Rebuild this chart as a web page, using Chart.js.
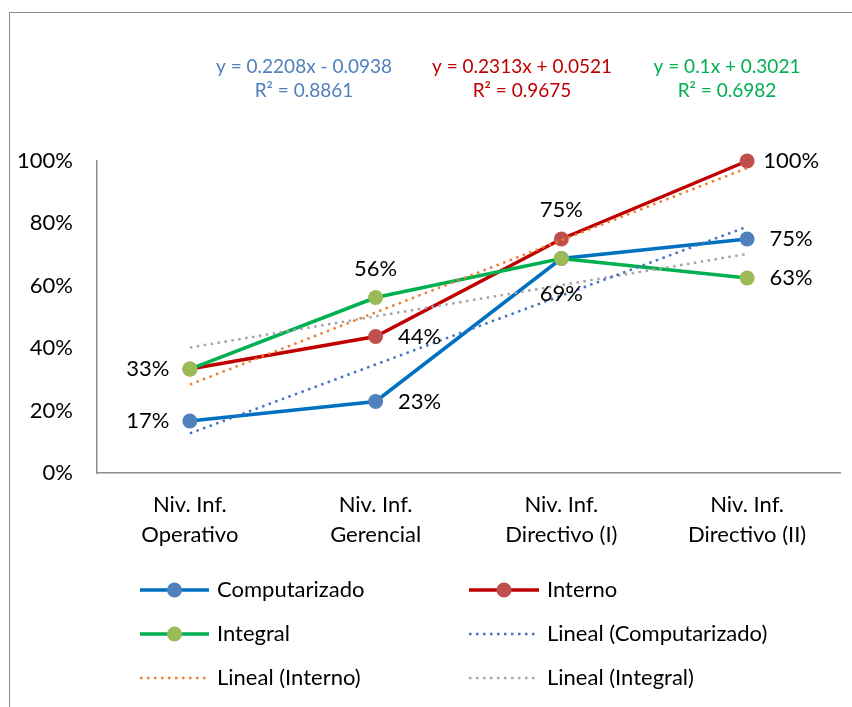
<!DOCTYPE html>
<html><head><meta charset="utf-8">
<script src="https://cdn.jsdelivr.net/npm/chart.js@4.4.1/dist/chart.umd.min.js"></script>
<style>html,body{margin:0;padding:0;background:#fff}canvas{display:block}</style>
</head><body>
<canvas id="c" width="852" height="707"></canvas>
<script>
// ---- data ----
const categories = [['Niv. Inf.','Operativo'],['Niv. Inf.','Gerencial'],['Niv. Inf.','Directivo (I)'],['Niv. Inf.','Directivo (II)']];
const computarizado = [0.1667, 0.2292, 0.6875, 0.75];
const interno = [0.3333, 0.4375, 0.75, 1.0];
const integral = [0.3333, 0.5625, 0.6875, 0.625];
const trendComputarizado = [0.127, 0.3478, 0.5686, 0.7894];
const trendInterno = [0.2834, 0.5147, 0.746, 0.9773];
const trendIntegral = [0.4021, 0.5021, 0.6021, 0.7021];
const yTicks = [0, 0.2, 0.4, 0.6, 0.8, 1.0];
const equations = ['y = 0.2208x - 0.0938', 'y = 0.2313x + 0.0521', 'y = 0.1x + 0.3021'];
const rSquared = ['R² = 0.8861', 'R² = 0.9675', 'R² = 0.6982'];

const FONT = 'Lato, "Open Sans", sans-serif';
const pct = v => Math.round(v * 100) + '%';

// label placement per main series/point (null = hidden, overlapped by another label)
const labelPlacement = [
  ['left', 'right', 'below', 'right'],
  [null, 'right', 'above', 'right'],
  ['left', 'above', null, 'right']
];
const eqColors = ['#4F81BD', '#C00000', '#00B050'];
const eqCenters = [304, 522, 727];

const borderPlugin = {
  id: 'frame',
  beforeDraw(chart) {
    const ctx = chart.ctx;
    ctx.save();
    ctx.fillStyle = '#fff';
    ctx.fillRect(0, 0, chart.width, chart.height);
    ctx.strokeStyle = '#8c8c8c';
    ctx.lineWidth = 1;
    ctx.strokeRect(9.5, 12.5, chart.width + 20, chart.height + 20);
    ctx.restore();
  }
};

const labelsPlugin = {
  id: 'extraText',
  afterDraw(chart) {
    const ctx = chart.ctx;
    ctx.save();
    // data labels
    ctx.font = '22px ' + FONT;
    ctx.fillStyle = '#000';
    ctx.textAlign = 'center';
    ctx.textBaseline = 'middle';
    for (let d = 0; d < 3; d++) {
      const meta = chart.getDatasetMeta(d);
      const vals = chart.data.datasets[d].data;
      meta.data.forEach((pt, i) => {
        const pos = labelPlacement[d][i];
        if (!pos) return;
        let x = pt.x, y = pt.y;
        if (pos === 'left') x -= 42;
        else if (pos === 'right') x += 44;
        else if (pos === 'above') y -= 29;
        else if (pos === 'below') y += 35;
        ctx.fillText(pct(vals[i]), x, y);
      });
    }
    // trend equations
    ctx.font = '19px ' + FONT;
    for (let k = 0; k < 3; k++) {
      ctx.fillStyle = eqColors[k];
      ctx.fillText(equations[k], eqCenters[k], 67);
      ctx.fillText(rSquared[k], eqCenters[k], 91);
    }
    // legend in two columns
    const rows = [590, 634, 678];
    const cols = [[140, 209, 217], [469, 539, 547]];
    ctx.font = '22px ' + FONT;
    ctx.textAlign = 'left';
    chart.data.datasets.forEach((ds, i) => {
      const r = rows[Math.floor(i / 2)];
      const c = cols[i % 2];
      ctx.save();
      ctx.strokeStyle = ds.borderColor;
      ctx.lineWidth = ds.borderWidth;
      ctx.setLineDash(ds.borderDash || []);
      ctx.lineCap = 'butt';
      ctx.beginPath();
      ctx.moveTo(c[0], r);
      ctx.lineTo(c[1], r);
      ctx.stroke();
      ctx.restore();
      if (ds.pointRadius > 0) {
        ctx.fillStyle = ds.pointBackgroundColor;
        ctx.beginPath();
        ctx.arc((c[0] + c[1]) / 2, r, ds.pointRadius, 0, Math.PI * 2);
        ctx.fill();
      }
      ctx.fillStyle = '#000';
      ctx.fillText(ds.label, c[2], r);
    });
    ctx.restore();
  }
};

const mainSeries = (label, data, line, marker, order) => ({
  label, data, borderColor: line, backgroundColor: marker,
  pointBackgroundColor: marker, pointBorderColor: marker, pointBorderWidth: 0,
  pointRadius: 7.5, borderWidth: 3.5, tension: 0, order, clip: false
});
const trendSeries = (label, data, color) => ({
  label, data, borderColor: color, backgroundColor: color,
  borderWidth: 2.5, borderDash: [2.5, 4.5], pointRadius: 0, tension: 0, order: 0, clip: false
});

new Chart(document.getElementById('c'), {
  type: 'line',
  data: {
    labels: categories,
    datasets: [
      mainSeries('Computarizado', computarizado, '#0070C0', '#4F81BD', 3),
      mainSeries('Interno', interno, '#C00000', '#C0504D', 2),
      mainSeries('Integral', integral, '#00B050', '#9BBB59', 1),
      trendSeries('Lineal (Computarizado)', trendComputarizado, '#4472C4'),
      trendSeries('Lineal (Interno)', trendInterno, '#ED7D31'),
      trendSeries('Lineal (Integral)', trendIntegral, '#A5A5A5')
    ]
  },
  options: {
    responsive: false,
    animation: false,
    devicePixelRatio: 1,
    layout: { padding: { left: 9, right: 12, top: 161, bottom: 134 } },
    plugins: { legend: { display: false }, tooltip: { enabled: false } },
    scales: {
      x: {
        offset: true,
        grid: { display: false, drawTicks: false, tickLength: 0 },
        border: { display: true, color: '#8c8c8c', width: 1.5 },
        ticks: { autoSkip: false, maxRotation: 0, padding: 17, color: '#000',
                 font: { family: FONT, size: 22, lineHeight: 1.37 } },
        afterFit(s) { s.height = 100; }
      },
      y: {
        min: 0, max: 1,
        grid: { display: false, drawTicks: false, tickLength: 0 },
        border: { display: true, color: '#8c8c8c', width: 1.5 },
        ticks: { padding: 24, color: '#000', font: { family: FONT, size: 22 },
                 callback: v => pct(v) },
        afterBuildTicks(s) { s.ticks = yTicks.map(v => ({ value: v })); },
        afterFit(s) { s.width = 88; }
      }
    }
  },
  plugins: [borderPlugin, labelsPlugin]
});
</script>
</body></html>
